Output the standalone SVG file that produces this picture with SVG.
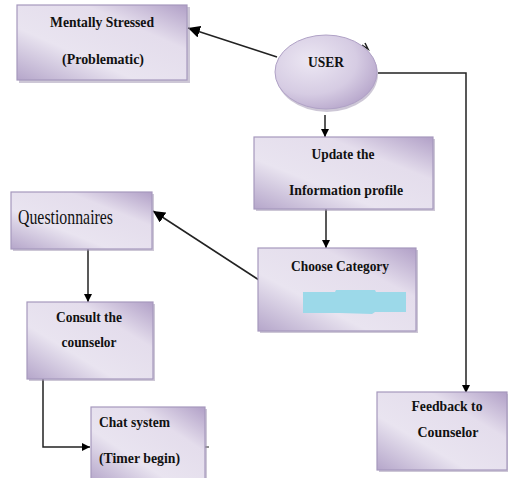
<svg xmlns="http://www.w3.org/2000/svg" width="508" height="478" viewBox="0 0 508 478">
<defs>
<linearGradient id="gb" x1="0" y1="1" x2="1" y2="0">
<stop offset="0" stop-color="#b5a6ca"/>
<stop offset="0.35" stop-color="#e9e4f0"/>
<stop offset="0.7" stop-color="#e4ddec"/>
<stop offset="1" stop-color="#b1a0c7"/>
</linearGradient>
<radialGradient id="ge" cx="0.35" cy="0.35" r="0.75">
<stop offset="0" stop-color="#ece7f3"/>
<stop offset="0.6" stop-color="#d6cce3"/>
<stop offset="1" stop-color="#b4a3c9"/>
</radialGradient>
<marker id="ah" viewBox="0 0 10 10" refX="10" refY="5" markerWidth="8" markerHeight="8" markerUnits="userSpaceOnUse" orient="auto">
<path d="M0,0 L10,5 L0,10 z" fill="#000"/>
</marker>
<marker id="ah2" viewBox="0 0 10 10" refX="10" refY="5" markerWidth="12" markerHeight="12" markerUnits="userSpaceOnUse" orient="auto">
<path d="M0,0 L10,5 L0,10 z" fill="#000"/>
</marker>
</defs>
<style>
.box{fill:url(#gb);stroke:#a698bd;stroke-width:1.2}
.sh{fill:#9b8fae;opacity:0.5}
.t{font-family:"Liberation Serif","Times New Roman",serif;font-weight:bold;font-size:15.5px;fill:#111}
.q{font-family:"Liberation Serif","Times New Roman",serif;font-size:22px;fill:#111}
.c{fill:none;stroke:#222;stroke-width:1.5}
</style>
<rect width="508" height="478" fill="#fff"/>
<g id="connectors">
<line class="c" x1="277" y1="57" x2="188" y2="28" marker-end="url(#ah2)"/>
<polyline class="c" points="378,73 466,73 466,393" marker-end="url(#ah)"/>
<line class="c" x1="325" y1="115" x2="325" y2="137" marker-end="url(#ah)"/>
<line class="c" x1="326" y1="209" x2="326" y2="248" marker-end="url(#ah)"/>
<line class="c" x1="259" y1="280" x2="153" y2="211" marker-end="url(#ah2)"/>
<line class="c" x1="88" y1="249" x2="88" y2="302" marker-end="url(#ah)"/>
<polyline class="c" points="43,379 43,447 90,447" marker-end="url(#ah)"/>
<path d="M362,45 L368,49 L365,43" fill="none" stroke="#222" stroke-width="1.5"/>
<line x1="205" y1="447" x2="209" y2="447" stroke="#222" stroke-width="1"/>
</g>
<g id="mentally-stressed">
<rect class="sh" x="19" y="7" width="171" height="76"/>
<rect class="box" x="17" y="5" width="170" height="75"/>
<text class="t" x="102" y="27" text-anchor="middle" textLength="104" lengthAdjust="spacingAndGlyphs">Mentally Stressed</text>
<text class="t" x="103" y="64" text-anchor="middle" textLength="82" lengthAdjust="spacingAndGlyphs">(Problematic)</text>
</g>
<g id="user">
<ellipse cx="327" cy="74" rx="51" ry="38" fill="#9b8fae" opacity="0.5"/>
<ellipse cx="326" cy="72" rx="51" ry="37" fill="url(#ge)" stroke="#b0a2c6" stroke-width="1"/>
<text class="t" x="326" y="67" text-anchor="middle" textLength="36" lengthAdjust="spacingAndGlyphs">USER</text>
</g>
<g id="update">
<rect class="sh" x="256" y="139" width="179" height="72"/>
<rect class="box" x="254" y="137" width="179" height="72"/>
<text class="t" x="343" y="159" text-anchor="middle" textLength="63" lengthAdjust="spacingAndGlyphs">Update the</text>
<text class="t" x="346" y="195" text-anchor="middle" textLength="114" lengthAdjust="spacingAndGlyphs">Information profile</text>
</g>
<g id="choose-category">
<rect class="sh" x="260" y="250" width="158" height="83"/>
<rect class="box" x="258" y="248" width="158" height="83"/>
<text class="t" x="340" y="271" text-anchor="middle" textLength="98" lengthAdjust="spacingAndGlyphs">Choose Category</text>
<path d="M303,292 L335,292 L336,290 L375,290 L376,292 L406,292 L406,312 L375,312 L372,314 L340,313 L303,313 z" fill="#9cd9e9"/>
</g>
<g id="questionnaires">
<rect class="sh" x="13" y="194" width="141" height="57"/>
<rect class="box" x="11" y="192" width="141" height="57"/>
<text class="q" x="18" y="224" textLength="95" lengthAdjust="spacingAndGlyphs">Questionnaires</text>
</g>
<g id="consult">
<rect class="sh" x="29" y="304" width="126" height="77"/>
<rect class="box" x="27" y="302" width="126" height="77"/>
<text class="t" x="89" y="322" text-anchor="middle" textLength="66" lengthAdjust="spacingAndGlyphs">Consult the</text>
<text class="t" x="89" y="347" text-anchor="middle" textLength="55" lengthAdjust="spacingAndGlyphs">counselor</text>
</g>
<g id="chat-system">
<rect class="sh" x="93" y="409" width="114" height="75"/>
<rect class="box" x="91" y="407" width="114" height="75"/>
<text class="t" x="99" y="427" textLength="71" lengthAdjust="spacingAndGlyphs">Chat system</text>
<text class="t" x="99" y="463" textLength="81" lengthAdjust="spacingAndGlyphs">(Timer begin)</text>
</g>
<g id="feedback">
<rect class="sh" x="379" y="394" width="130" height="78"/>
<rect class="box" x="377" y="392" width="130" height="78"/>
<text class="t" x="447" y="411" text-anchor="middle" textLength="71" lengthAdjust="spacingAndGlyphs">Feedback to</text>
<text class="t" x="448" y="437" text-anchor="middle" textLength="61" lengthAdjust="spacingAndGlyphs">Counselor</text>
</g>
</svg>
